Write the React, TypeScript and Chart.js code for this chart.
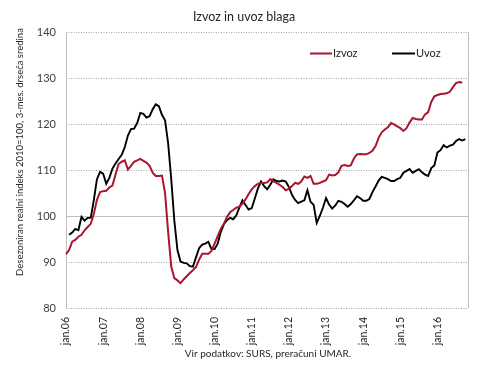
import React, { useEffect, useRef } from "react";
import { Chart, registerables } from "chart.js";

Chart.register(...registerables);

const TITLE = "Izvoz in uvoz blaga";
const Y_TITLE = "Desezoniran realni indeks 2010=100, 3-mes. drseča sredina";
const SOURCE = "Vir podatkov: SURS, preračuni UMAR.";
const SERIES_NAMES = ["Izvoz", "Uvoz"];

const YEARS = ["06", "07", "08", "09", "10", "11", "12", "13", "14", "15", "16"];
const MONTHS = ["jan", "feb", "mar", "apr", "maj", "jun", "jul", "avg", "sep", "okt", "nov", "dec"];
const LAST_YEAR_MONTHS = 11; // axis runs to nov.16

const Y_MIN = 80;
const Y_MAX = 140;
const Y_STEP = 10;

// Izvoz (export), from jan.06
const izvoz = [
  91.7, 92.6, 94.4, 94.8, 95.5, 95.9, 96.9, 97.6, 98.3, 100.5, 103.5, 105.2,
  105.4, 105.5, 106.2, 106.6, 109.0, 111.3, 111.8, 112.1, 110.1, 110.9, 111.8, 112.1,
  112.4, 112.0, 111.6, 110.9, 109.4, 108.7, 108.7, 108.8, 105.0, 96.5, 89.0, 86.5,
  86.0, 85.4, 86.2, 86.9, 87.6, 88.2, 88.9, 90.5, 91.8, 91.8, 91.8, 92.4,
  94.0, 95.6, 97.2, 98.3, 99.8, 100.8, 101.3, 101.8, 102.0, 102.7, 103.6, 104.8,
  105.8, 106.5, 107.0, 107.2, 107.2, 107.3, 108.0, 107.5, 107.2, 106.8, 106.3, 105.6,
  105.9, 106.5, 107.2, 107.0, 107.5, 108.6, 108.3, 108.7, 107.0, 107.0, 107.2, 107.5,
  107.8, 109.0, 108.8, 108.9, 109.5, 110.9, 111.1, 110.9, 111.0, 112.5, 113.4, 113.5,
  113.4, 113.4, 113.7, 114.2, 115.2, 117.0, 118.2, 118.8, 119.3, 120.2, 119.9, 119.5,
  119.1, 118.5, 119.1, 120.3, 121.3, 121.1, 121.0, 121.0, 122.1, 122.6, 124.8, 126.0,
  126.3, 126.5, 126.6, 126.7, 127.0, 128.0, 128.9, 129.1, 129.0,
];

// Uvoz (import), from feb.06
const uvoz = [
  null, 95.9, 96.4, 97.2, 96.9, 99.8, 99.0, 99.6, 99.6, 103.5, 108.0, 109.6,
  109.2, 107.0, 108.3, 110.3, 111.4, 112.4, 113.3, 115.0, 117.5, 118.9, 119.0, 120.2,
  122.4, 122.2, 121.4, 121.7, 123.2, 124.3, 123.9, 122.0, 120.8, 115.8, 108.0, 99.0,
  92.6, 90.1, 89.8, 89.7, 89.1, 89.0, 91.0, 93.0, 93.8, 94.0, 94.4, 92.8,
  92.8, 94.0, 96.5, 98.2, 99.1, 99.6, 99.3, 100.1, 101.8, 103.4, 102.4, 101.4,
  101.7, 103.8, 106.0, 107.5, 106.5, 105.8, 106.8, 108.0, 107.6, 107.5, 107.7, 107.5,
  106.3, 104.6, 103.5, 102.8, 103.1, 103.4, 105.6, 103.1, 102.4, 98.5, 100.0, 101.8,
  103.9, 102.5, 101.6, 102.3, 103.3, 103.1, 102.6, 102.0, 102.6, 103.4, 104.3, 103.9,
  103.3, 103.3, 103.7, 105.2, 106.4, 107.7, 108.5, 108.3, 108.0, 107.6, 107.6, 108.0,
  108.3, 109.4, 109.8, 110.2, 109.4, 109.8, 110.2, 109.5, 109.0, 108.7, 110.4, 111.0,
  113.8, 114.3, 115.4, 114.9, 115.3, 115.5, 116.3, 116.7, 116.4, 116.7,
];

const COLORS = ["#a8162f", "#000000"];
const FONT = "Lato, 'Open Sans', sans-serif";
const TEXT_COLOR = "#404040";

function buildLabels(): string[] {
  const out: string[] = [];
  YEARS.forEach((yy, yi) => {
    const n = yi === YEARS.length - 1 ? LAST_YEAR_MONTHS : 12;
    for (let m = 0; m < n; m++) out.push(`${MONTHS[m]}.${yy}`);
  });
  return out;
}

const decorPlugin = {
  id: "decor",
  beforeDatasetsDraw(chart: any) {
    const { ctx, chartArea } = chart;
    const y = chart.scales.y;
    const { left, right, top, bottom } = chartArea;
    ctx.save();
    ctx.lineWidth = 1;
    for (let v = Y_MIN; v <= Y_MAX; v += Y_STEP) {
      const py = Math.round(y.getPixelForValue(v)) + 0.5;
      ctx.beginPath();
      if (v === 100) {
        ctx.setLineDash([]);
        ctx.strokeStyle = "#c0c0c0";
      } else {
        ctx.setLineDash([1, 1.5]);
        ctx.strokeStyle = "#a6a6a6";
      }
      ctx.moveTo(left, py);
      ctx.lineTo(right, py);
      ctx.stroke();
    }
    ctx.setLineDash([]);
    ctx.strokeStyle = "#bfbfbf";
    ctx.beginPath();
    ctx.moveTo(Math.round(left) + 0.5, top);
    ctx.lineTo(Math.round(left) + 0.5, bottom);
    ctx.moveTo(Math.round(right) + 0.5, top);
    ctx.lineTo(Math.round(right) + 0.5, bottom);
    ctx.stroke();
    ctx.restore();
  },
  afterDraw(chart: any) {
    const { ctx } = chart;
    ctx.save();
    // title
    ctx.fillStyle = "#262626";
    ctx.font = `12.5px ${FONT}`;
    ctx.textAlign = "center";
    ctx.textBaseline = "middle";
    ctx.fillText(TITLE, 244, 17);
    // y title
    ctx.save();
    ctx.translate(20, 152);
    ctx.rotate(-Math.PI / 2);
    ctx.font = `9.5px ${FONT}`;
    ctx.fillStyle = "#262626";
    ctx.fillText(Y_TITLE, 0, 0);
    ctx.restore();
    // source
    ctx.font = `10px ${FONT}`;
    ctx.fillStyle = "#262626";
    ctx.fillText(SOURCE, 268, 354);
    // legend
    const ly = 53.5;
    const items = [
      { x: 310, w: 22 },
      { x: 392, w: 23 },
    ];
    ctx.font = `11px ${FONT}`;
    ctx.textAlign = "left";
    items.forEach((it, i) => {
      ctx.strokeStyle = COLORS[i];
      ctx.lineWidth = 2;
      ctx.beginPath();
      ctx.moveTo(it.x, ly);
      ctx.lineTo(it.x + it.w, ly);
      ctx.stroke();
      ctx.fillStyle = "#262626";
      ctx.fillText(SERIES_NAMES[i], it.x + it.w + 1, ly);
    });
    ctx.restore();
  },
};

export default function App() {
  const ref = useRef<HTMLCanvasElement | null>(null);

  useEffect(() => {
    document.body.style.margin = "0";
    const labels = buildLabels();
    const chart = new Chart(ref.current as HTMLCanvasElement, {
      type: "line",
      data: {
        labels,
        datasets: [
          {
            label: SERIES_NAMES[0],
            data: izvoz,
            borderColor: COLORS[0],
            borderWidth: 2,
            pointRadius: 0,
            tension: 0,
            fill: false,
          },
          {
            label: SERIES_NAMES[1],
            data: uvoz as any,
            borderColor: COLORS[1],
            borderWidth: 1.9,
            pointRadius: 0,
            tension: 0,
            fill: false,
          },
        ],
      },
      options: {
        animation: false,
        responsive: false,
        maintainAspectRatio: false,
        events: [],
        layout: { padding: { top: 32, right: 8, left: 0, bottom: 0 } },
        plugins: {
          legend: { display: false },
          title: { display: false },
          tooltip: { enabled: false },
        },
        scales: {
          x: {
            type: "category",
            offset: false,
            grid: { display: false, drawTicks: false },
            border: { display: false },
            ticks: {
              autoSkip: false,
              maxRotation: 90,
              minRotation: 90,
              padding: 9,
              color: "#262626",
              font: { family: FONT, size: 10.5 },
              callback: (_v: any, idx: number) => (idx % 12 === 0 ? labels[idx] : ""),
            },
            afterFit: (s: any) => {
              s.height = 60;
            },
          },
          y: {
            min: Y_MIN,
            max: Y_MAX,
            grid: { display: false, drawTicks: false },
            border: { display: false },
            ticks: {
              stepSize: Y_STEP,
              padding: 10,
              color: TEXT_COLOR,
              font: { family: FONT, size: 11 },
            },
            afterFit: (s: any) => {
              s.width = 66;
            },
          },
        },
      },
      plugins: [decorPlugin],
    });
    return () => chart.destroy();
  }, []);

  return (
    <div style={{ width: 490, height: 368 }}>
      <canvas ref={ref} width={490} height={368} style={{ display: "block" }} />
    </div>
  );
}
